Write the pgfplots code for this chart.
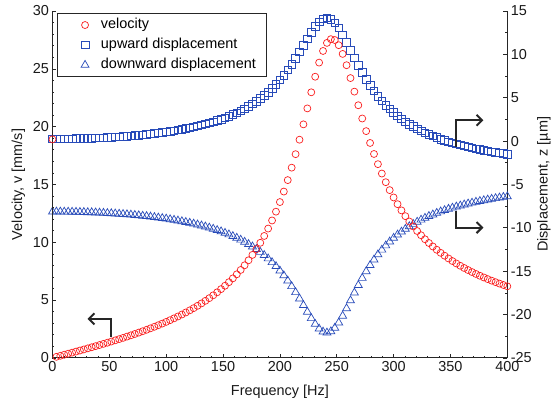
\documentclass[border=0pt]{standalone}
\usepackage{fontspec}
\setmainfont{Liberation Sans}
\usepackage{pgfplots}
\pgfplotsset{compat=1.18}
\usepackage{pgfplotstable}
\usetikzlibrary{arrows.meta}
\definecolor{vred}{RGB}{250,30,30}
\definecolor{dblue}{RGB}{40,75,185}
\definecolor{axc}{RGB}{38,38,38}
\tikzset{myarrow/.style={line width=2bp, axc, -{Straight Barb[length=5.5bp, width=11bp, line width=2bp]}}}

\pgfplotstableread{
f v up down
0 18.9 0.25 -8.15
3.448 0.090 0.25 -8.15
6.897 0.180 0.25 -8.15
10.345 0.271 0.26 -8.16
13.793 0.362 0.26 -8.16
17.241 0.453 0.27 -8.17
20.690 0.545 0.28 -8.18
24.138 0.637 0.29 -8.19
27.586 0.730 0.30 -8.20
31.034 0.824 0.32 -8.22
34.483 0.919 0.33 -8.23
37.931 1.015 0.35 -8.25
41.379 1.112 0.37 -8.27
44.828 1.211 0.39 -8.29
48.276 1.311 0.42 -8.32
51.724 1.413 0.44 -8.34
55.172 1.516 0.47 -8.37
58.621 1.622 0.50 -8.40
62.069 1.729 0.53 -8.43
65.517 1.839 0.56 -8.46
68.966 1.952 0.60 -8.50
72.414 2.067 0.64 -8.54
75.862 2.185 0.68 -8.58
79.310 2.306 0.73 -8.63
82.759 2.430 0.77 -8.67
86.207 2.558 0.83 -8.73
89.655 2.690 0.88 -8.78
93.103 2.826 0.94 -8.84
96.552 2.966 1.00 -8.90
100.000 3.112 1.06 -8.96
103.448 3.262 1.13 -9.03
106.897 3.419 1.20 -9.10
110.345 3.581 1.28 -9.18
113.793 3.750 1.36 -9.26
117.241 3.926 1.45 -9.35
120.690 4.109 1.54 -9.44
124.138 4.301 1.64 -9.54
127.586 4.502 1.74 -9.64
131.034 4.713 1.85 -9.75
134.483 4.934 1.97 -9.87
137.931 5.167 2.10 -10.00
141.379 5.413 2.23 -10.13
144.828 5.672 2.38 -10.28
148.276 5.947 2.53 -10.43
151.724 6.238 2.70 -10.60
155.172 6.547 2.88 -10.78
158.621 6.877 3.07 -10.97
162.069 7.228 3.27 -11.17
165.517 7.604 3.49 -11.39
168.966 8.007 3.73 -11.63
172.414 8.440 3.99 -11.89
175.862 8.906 4.27 -12.17
179.310 9.409 4.57 -12.47
182.759 9.953 4.90 -12.80
186.207 10.544 5.26 -13.16
189.655 11.185 5.65 -13.55
193.103 11.883 6.08 -13.98
196.552 12.645 6.54 -14.44
200.000 13.476 7.05 -14.95
203.448 14.384 7.60 -15.50
206.897 15.374 8.20 -16.10
210.345 16.451 8.85 -16.75
213.793 17.617 9.54 -17.44
217.241 18.869 10.27 -18.17
220.690 20.197 11.03 -18.93
224.138 21.576 11.80 -19.70
227.586 22.969 12.54 -20.44
231.034 24.316 13.20 -21.10
234.483 25.537 13.74 -21.64
237.931 26.543 14.09 -21.99
241.379 27.240 14.20 -22.10
244.828 27.564 14.05 -21.95
248.276 27.490 13.65 -21.55
251.724 27.043 13.04 -20.94
255.172 26.288 12.26 -20.16
258.621 25.311 11.40 -19.30
262.069 24.199 10.49 -18.39
265.517 23.026 9.59 -17.49
268.966 21.849 8.72 -16.62
272.414 20.702 7.90 -15.80
275.862 19.611 7.13 -15.03
279.310 18.587 6.42 -14.32
282.759 17.635 5.78 -13.68
286.207 16.754 5.18 -13.08
289.655 15.942 4.64 -12.54
293.103 15.195 4.15 -12.05
296.552 14.508 3.70 -11.60
300.000 13.875 3.28 -11.18
303.448 13.292 2.90 -10.80
306.897 12.755 2.56 -10.46
310.345 12.257 2.24 -10.14
313.793 11.797 1.94 -9.84
317.241 11.370 1.67 -9.57
320.690 10.974 1.42 -9.32
324.138 10.604 1.18 -9.08
327.586 10.259 0.97 -8.87
331.034 9.937 0.76 -8.66
334.483 9.635 0.58 -8.48
337.931 9.351 0.40 -8.30
341.379 9.085 0.23 -8.13
344.828 8.835 0.08 -7.98
348.276 8.598 -0.07 -7.83
351.724 8.375 -0.20 -7.70
355.172 8.164 -0.33 -7.57
358.621 7.964 -0.45 -7.45
362.069 7.774 -0.57 -7.33
365.517 7.594 -0.68 -7.22
368.966 7.422 -0.78 -7.12
372.414 7.259 -0.88 -7.02
375.862 7.103 -0.97 -6.93
379.310 6.955 -1.06 -6.84
382.759 6.813 -1.14 -6.76
386.207 6.678 -1.22 -6.68
389.655 6.548 -1.30 -6.60
393.103 6.424 -1.37 -6.53
396.552 6.304 -1.44 -6.46
400.000 6.190 -1.51 -6.39
}\data

\begin{document}
\begin{tikzpicture}
\pgfplotsset{
  every axis/.append style={
    width=455bp, height=347bp, scale only axis,
    xmin=0, xmax=400, clip=false,
    font=\fontsize{14.5}{17}\selectfont,
    tick align=inside,
    major tick length=4bp, minor tick length=2bp,
    /pgf/number format/assume math mode=true,
    axis line style={line width=0.8bp, axc},
    tick style={line width=0.6bp, axc},
    tick label style={text=black!90},
    label style={text=black!90},
  },
  vmark/.style={only marks, mark=o, draw=vred, mark size=3.5bp, mark options={line width=0.7bp}},
  umark/.style={only marks, mark=square, draw=dblue, mark size=3.8bp, mark options={line width=0.7bp}},
  dmark/.style={only marks, mark=triangle, draw=dblue, mark size=4.6bp, mark options={line width=0.7bp}},
}
% displacement axis (right)
\begin{axis}[
  axis y line*=right, axis x line=none,
  ymin=-25, ymax=15,
  ytick={-25,-20,...,15}, minor y tick num=1,
  ylabel={Displacement, z [µm]},
  ylabel style={at={(axis description cs:1.0802,0.5)}, anchor=center},
]
\addplot[umark] table[x=f, y=up] {\data};
\addplot[dmark] table[x=f, y=down] {\data};
\end{axis}
% velocity axis (left + bottom)
\begin{axis}[name=ax,
  axis y line*=left, axis x line*=bottom,
  ymin=0, ymax=30,
  xtick={0,50,...,400}, minor x tick num=4,
  ytick={0,5,...,30}, minor y tick num=4,
  xlabel={Frequency [Hz]},
  ylabel={Velocity, v [mm/s]},
  xlabel style={at={(axis description cs:0.5,-0.108)}, anchor=base},
  ylabel style={at={(axis description cs:-0.0747,0.5)}, anchor=center},
  legend style={at={(0.0103,0.9934)}, anchor=north west, draw=axc, line width=0.8bp, fill=white,
    font=\fontsize{14.5}{17}\selectfont, inner xsep=8.6bp, inner ysep=2.6bp,
    row sep=2.5bp, column sep=4bp,
    nodes={inner sep=2bp, text height=10.5bp, text depth=3bp}},
  legend cell align=left,
  legend image code/.code={\path (0bp,0bp) (28bp,0bp); \draw[#1] plot coordinates {(18.5bp,0bp)};},
]
\addplot[vmark] table[x=f, y=v] {\data};
\addlegendentry{velocity}
\addlegendimage{umark}
\addlegendentry{upward displacement}
\addlegendimage{dmark}
\addlegendentry{downward displacement}
\draw[myarrow] (axis cs:51.9,1.82) -- (axis cs:51.9,3.37) -- (axis cs:30.8,3.37);
\draw[myarrow] (axis cs:355.2,18.24) -- (axis cs:355.2,20.55) -- (axis cs:379,20.55);
\draw[myarrow] (axis cs:355.2,12.71) -- (axis cs:355.2,11.27) -- (axis cs:379,11.27);
\end{axis}
\pgfresetboundingbox
\path[use as bounding box] ([xshift=-52.5bp, yshift=-42bp]ax.south west) rectangle ([xshift=44.7bp, yshift=11bp]ax.north east);
\end{tikzpicture}
\end{document}
